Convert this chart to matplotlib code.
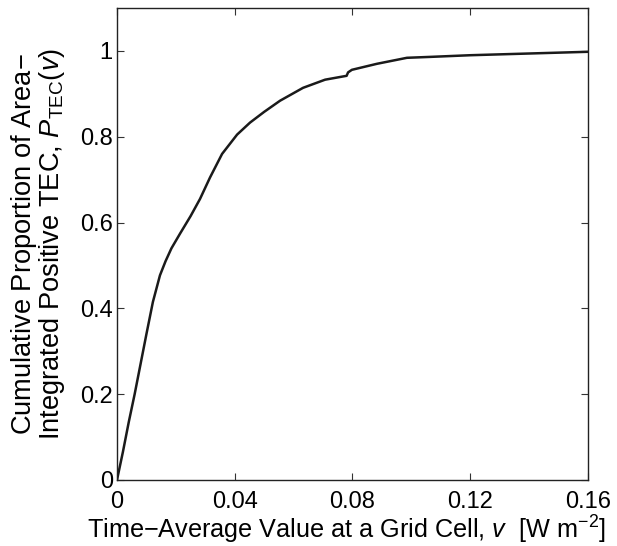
import matplotlib
matplotlib.use('Agg')
import matplotlib.pyplot as plt

# values
v = [0, 0.002, 0.004, 0.006, 0.008, 0.010, 0.0122, 0.0146, 0.0165, 0.0185,
     0.0214, 0.025, 0.0282, 0.0316, 0.0357, 0.0408, 0.0452, 0.050, 0.0554,
     0.0632, 0.0707, 0.078, 0.0785, 0.0798, 0.0883, 0.0985, 0.106, 0.12,
     0.13, 0.14, 0.15, 0.16]
p_tec = [0, 0.065, 0.135, 0.20, 0.27, 0.34, 0.415, 0.477, 0.51, 0.54,
         0.574, 0.615, 0.655, 0.705, 0.760, 0.805, 0.833, 0.858, 0.884,
         0.914, 0.933, 0.942, 0.95, 0.956, 0.970, 0.984, 0.986, 0.990,
         0.992, 0.994, 0.996, 0.998]

xticks = [0, 0.04, 0.08, 0.12, 0.16]
xtick_labels = ['0', '0.04', '0.08', '0.12', '0.16']
yticks = [0, 0.2, 0.4, 0.6, 0.8, 1.0]
ytick_labels = ['0', '0.2', '0.4', '0.6', '0.8', '1']

plt.rcParams['font.family'] = ['Liberation Sans', 'DejaVu Sans']
plt.rcParams['mathtext.fontset'] = 'custom'
plt.rcParams['mathtext.rm'] = 'Liberation Sans'
plt.rcParams['mathtext.it'] = 'Liberation Sans:italic'
plt.rcParams['mathtext.default'] = 'regular'

fig = plt.figure(figsize=(6.17, 5.46), dpi=100)
ax = fig.add_axes([0.1896, 0.1209, 0.7634, 0.8644])

ax.plot(v, p_tec, color='#1a1a1a', linewidth=1.8)

ax.set_xlim(0, 0.16)
ax.set_ylim(0, 1.1)
ax.set_xticks(xticks)
ax.set_xticklabels(xtick_labels)
ax.set_yticks(yticks)
ax.set_yticklabels(ytick_labels)
ax.tick_params(direction='in', length=5, width=0.8, top=True, right=True,
               labelsize=17, pad=3, color='#333333')
ax.tick_params(axis='x', pad=8)
for s in ax.spines.values():
    s.set_linewidth(1.0)
    s.set_color('#222222')

ax.set_xlabel(r'Time$-$Average Value at a Grid Cell, $\mathit{v}$  [W m$^{-2}$]',
              fontsize=18.2)
ax.xaxis.set_label_coords(0.488, -0.072)
ax.set_ylabel('Cumulative Proportion of Area$-$\n'
              r'Integrated Positive TEC, $\mathit{P}_{\mathrm{TEC}}(\mathit{v})$',
              fontsize=19.6, labelpad=9, linespacing=0.95)

fig.savefig('out.png', dpi=100)
